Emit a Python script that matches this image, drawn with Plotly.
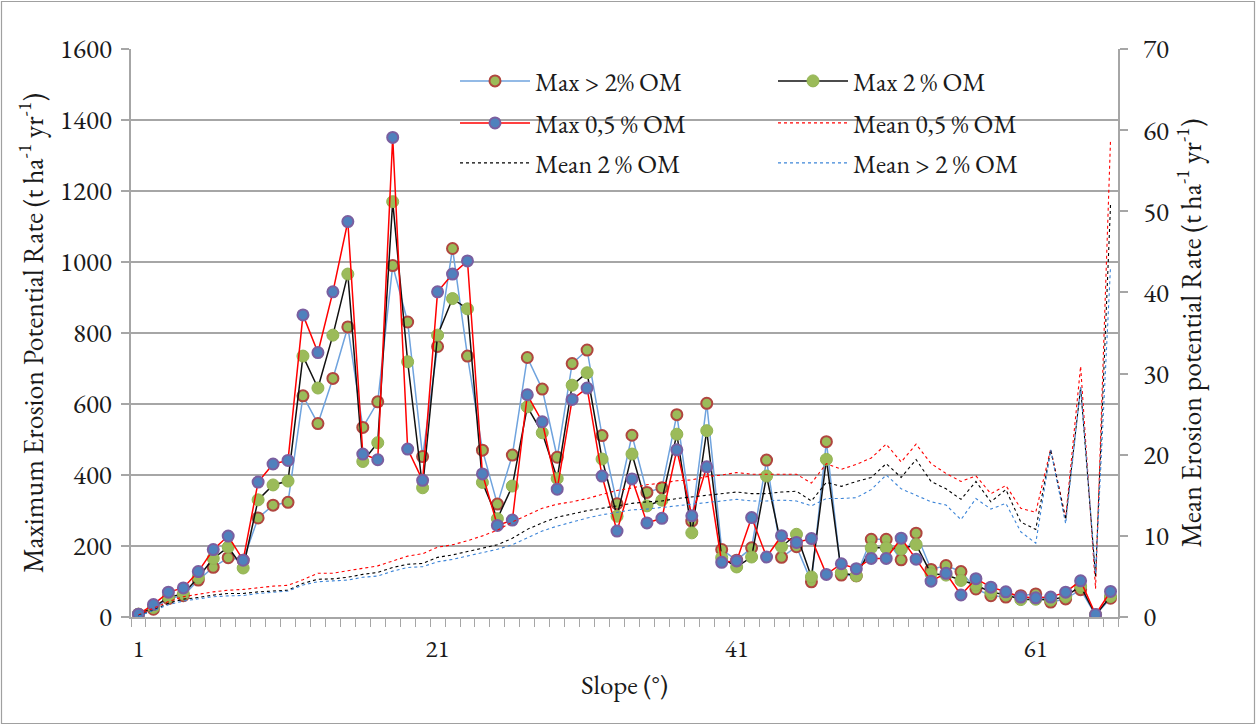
import plotly.graph_objects as go

# ---------------- data ----------------
slope = [1, 2, 3, 4, 5, 6, 7, 8, 9, 10, 11, 12, 13, 14, 15, 16, 17, 18, 19, 20,
         21, 22, 23, 24, 25, 26, 27, 28, 29, 30, 31, 32, 33, 34, 35, 36, 37, 38, 39, 40,
         41, 42, 43, 44, 45, 46, 47, 48, 49, 50, 51, 52, 53, 54, 55, 56, 57, 58, 59, 60,
         61, 62, 63, 64, 65, 66]

max_gt2 = [8, 22, 52, 60, 104, 140, 167, 160, 279, 315, 323, 623, 545, 672, 817, 534, 606, 990, 831, 452,
           762, 1038, 735, 470, 318, 456, 731, 642, 450, 714, 752, 511, 319, 512, 351, 364, 570, 270, 602, 190,
           160, 195, 442, 168, 198, 99, 494, 118, 116, 219, 219, 161, 236, 134, 145, 128, 79, 60, 56, 60,
           65, 42, 51, 77, 6, 53]

max_2 = [8, 27, 56, 65, 112, 165, 197, 138, 330, 372, 383, 735, 645, 794, 966, 438, 491, 1170, 719, 364,
         794, 897, 868, 379, 277, 369, 592, 519, 390, 653, 688, 445, 284, 459, 313, 329, 515, 237, 525, 167,
         141, 169, 397, 198, 233, 113, 444, 125, 116, 195, 195, 191, 204, 122, 118, 103, 90, 70, 63, 49,
         50, 48, 58, 87, 6, 58]

max_05 = [8, 35, 70, 82, 128, 190, 228, 160, 380, 431, 441, 851, 745, 916, 1114, 459, 443, 1351, 473, 385,
          916, 966, 1003, 403, 258, 273, 626, 550, 360, 613, 645, 397, 242, 389, 265, 278, 471, 285, 423, 154,
          158, 280, 169, 229, 210, 221, 120, 150, 136, 165, 165, 222, 163, 101, 123, 62, 108, 84, 71, 56,
          54, 56, 70, 102, 7, 72]

mean_05 = [0.25, 1.1, 1.9, 2.5, 2.8, 3.1, 3.3, 3.4, 3.6, 3.8, 3.9, 4.6, 5.4, 5.4, 5.7, 6.0, 6.3, 6.9, 7.5, 7.8,
           8.6, 8.9, 9.4, 10.0, 10.7, 11.7, 12.6, 13.4, 13.9, 14.2, 14.6, 15.1, 15.6, 15.9, 16.3, 16.5, 16.8, 16.9, 17.3, 17.5,
           17.8, 17.6, 17.6, 17.6, 17.6, 16.5, 18.9, 18.2, 18.8, 19.6, 21.3, 19.1, 21.3, 18.9, 17.7, 16.7, 17.4, 15.2, 16.2, 13.4,
           12.9, 20.7, 12.2, 30.9, 3.5, 58.8]

mean_2 = [0.15, 0.86, 1.7, 2.2, 2.4, 2.7, 2.9, 2.9, 3.1, 3.2, 3.3, 4.15, 4.65, 4.7, 4.9, 5.25, 5.5, 6.1, 6.5, 6.6,
          7.35, 7.65, 8.05, 8.45, 8.9, 9.7, 10.8, 11.6, 12.3, 12.7, 13.1, 13.4, 13.7, 14.0, 14.2, 14.3, 14.6, 14.8, 15.0, 15.2,
          15.4, 15.2, 15.2, 15.4, 15.5, 14.3, 16.6, 16.1, 16.7, 17.2, 18.9, 17.2, 19.4, 16.7, 15.8, 14.5, 16.7, 14.2, 15.7, 11.7,
          10.8, 20.6, 12.0, 28.3, 5.0, 50.8]

mean_gt2 = [0.12, 0.78, 1.5, 1.97, 2.2, 2.5, 2.6, 2.65, 2.9, 3.05, 3.2, 3.95, 4.35, 4.45, 4.55, 4.9, 5.05, 5.65, 6.1, 6.2,
            6.8, 7.1, 7.5, 7.9, 8.35, 8.9, 9.7, 10.6, 11.2, 11.7, 12.2, 12.6, 12.9, 13.2, 13.3, 13.5, 13.7, 13.9, 14.1, 14.3,
            14.5, 14.3, 14.3, 14.4, 14.3, 13.7, 14.6, 14.6, 14.7, 15.7, 17.5, 15.8, 15.0, 14.2, 13.8, 12.0, 14.6, 13.3, 14.0, 10.5,
            9.1, 20.6, 11.5, 28.3, 5.3, 43.2]

x_tick_labels = [1, 21, 41, 61]

# ---------------- layout constants ----------------
W, H = 1257, 726
ML, MR, MT, MB = 131, 139, 49, 109
PW = W - ML - MR
PH = H - MT - MB

FONT = "Garamond, 'EB Garamond', 'Liberation Serif', 'Times New Roman', serif"
GRID = "#a6a6a6"
TXT = "#1a1a1a"


def px_x(p):
    return (p - ML) / PW


def px_y(p):
    return (H - MB - p) / PH


fig = go.Figure()

fig.add_trace(go.Scatter(
    x=slope, y=max_gt2, mode="lines+markers", name="Max > 2% OM",
    line=dict(color="#6fa3de", width=1.5),
    marker=dict(size=11, color="#9bbb59", line=dict(color="#b0463f", width=2)),
    legend="legend"))
fig.add_trace(go.Scatter(
    x=slope, y=max_2, mode="lines+markers", name="Max 2 % OM",
    line=dict(color="#111111", width=1.5),
    marker=dict(size=12, color="#9bbb59", line=dict(color="#92b352", width=1)),
    legend="legend2"))
fig.add_trace(go.Scatter(
    x=slope, y=max_05, mode="lines+markers", name="Max 0,5 % OM",
    line=dict(color="#ff0000", width=1.5),
    marker=dict(size=11, color="#4f81bd", line=dict(color="#7a5fa0", width=2)),
    legend="legend3"))
fig.add_trace(go.Scatter(
    x=slope, y=mean_05, mode="lines", name="Mean 0,5 % OM", yaxis="y2",
    line=dict(color="#ff0000", width=1.1, dash="dot"),
    legend="legend4"))
fig.add_trace(go.Scatter(
    x=slope, y=mean_2, mode="lines", name="Mean 2 % OM", yaxis="y2",
    line=dict(color="#000000", width=1.1, dash="dot"),
    legend="legend5"))
fig.add_trace(go.Scatter(
    x=slope, y=mean_gt2, mode="lines", name="Mean > 2 % OM", yaxis="y2",
    line=dict(color="#3d85d8", width=1.1, dash="dot"),
    legend="legend6"))

leg_common = dict(bgcolor="rgba(0,0,0,0)", font=dict(family=FONT, size=26, color=TXT),
                  itemwidth=70, xanchor="left", yanchor="middle", borderwidth=0)
col_x = [px_x(455), px_x(773)]
row_y = [px_y(81), px_y(123), px_y(163)]

fig.update_layout(
    width=W, height=H,
    margin=dict(l=ML, r=MR, t=MT, b=MB, autoexpand=False),
    paper_bgcolor="white", plot_bgcolor="white",
    font=dict(family=FONT, color=TXT),
    showlegend=True,
    legend=dict(x=col_x[0], y=row_y[0], **leg_common),
    legend2=dict(x=col_x[1], y=row_y[0], **leg_common),
    legend3=dict(x=col_x[0], y=row_y[1], **leg_common),
    legend4=dict(x=col_x[1], y=row_y[1], **leg_common),
    legend5=dict(x=col_x[0], y=row_y[2], **leg_common),
    legend6=dict(x=col_x[1], y=row_y[2], **leg_common),
    xaxis=dict(
        range=[0.5, 66.5], tickmode="array", tickvals=x_tick_labels,
        ticktext=[str(v) for v in x_tick_labels], ticks="",
        showgrid=False, zeroline=False, showline=True, linecolor=GRID, linewidth=1.5,
        tickfont=dict(family=FONT, size=25, color=TXT), ticklabelstandoff=8,
        minor=dict(tickmode="linear", tick0=0.5, dtick=1, ticks="outside", ticklen=8,
                   tickcolor=GRID, tickwidth=1, showgrid=False),
        title=dict(text="Slope (°)", font=dict(family=FONT, size=27, color=TXT), standoff=12),
    ),
    yaxis=dict(
        range=[0, 1600], dtick=200, tick0=0, ticks="outside", ticklen=8, tickcolor=GRID, tickwidth=1.5,
        showgrid=True, gridcolor=GRID, gridwidth=1.8, zeroline=False,
        showline=True, linecolor=GRID, linewidth=1.5,
        tickfont=dict(family=FONT, size=27, color=TXT), ticklabelstandoff=4,
        title=dict(text="Maximum Erosion Potential Rate (t ha<sup>-1</sup> yr<sup>-1</sup>)",
                   font=dict(family=FONT, size=28, color=TXT), standoff=8),
    ),
    yaxis2=dict(
        range=[0, 70], dtick=10, tick0=0, overlaying="y", side="right",
        ticks="outside", ticklen=8, tickcolor=GRID, tickwidth=1.5,
        showgrid=False, zeroline=False, showline=True, linecolor=GRID, linewidth=1.5,
        tickfont=dict(family=FONT, size=27, color=TXT), ticklabelstandoff=10,
        title=dict(text="Mean Erosion potential Rate (t ha<sup>-1</sup> yr<sup>-1</sup>)",
                   font=dict(family=FONT, size=28, color=TXT), standoff=9),
    ),
)

# chart-area border (decoration)
fig.add_shape(type="rect", xref="paper", yref="paper",
              x0=px_x(1.5), x1=px_x(W - 2.5), y0=px_y(H - 2.5), y1=px_y(1.5),
              line=dict(color="#a0a0a0", width=1.2), fillcolor="rgba(0,0,0,0)", layer="below")

fig.write_html("out.html", config={"displayModeBar": False},
               post_script="document.body.style.margin='0';")
